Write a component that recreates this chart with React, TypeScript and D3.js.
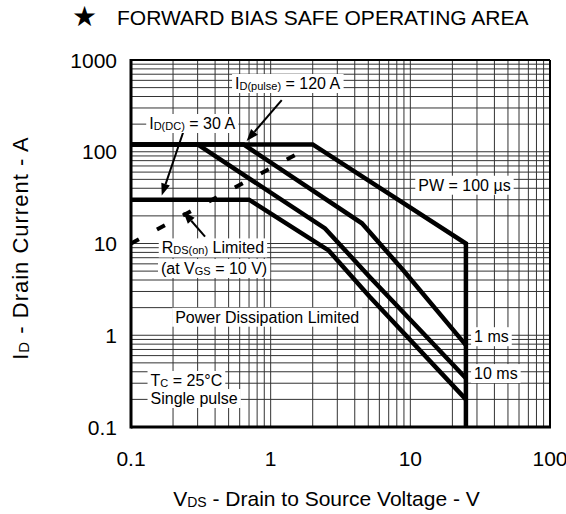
import * as d3 from "d3";
import { useEffect, useRef } from "react";

const W = 566;
const H = 514;
const PLOT = { left: 131, right: 550, top: 60, bottom: 427 };
const FONT = "'Liberation Sans', Arial, Helvetica, sans-serif";

const xTickLabels = ["0.1", "1", "10", "100"];
const yTickLabels = ["0.1", "1", "10", "100", "1000"];

// SOA boundaries as [V_DS (V), I_D (A)]
const pw100us: [number, number][] = [[0.1, 120], [2, 120], [25, 10], [25, 0.1]];
const pw1ms: [number, number][] = [[0.1, 120], [0.64, 120], [4.5, 16.6], [8.9, 5.1], [25, 0.78]];
const pw10ms: [number, number][] = [[0.1, 120], [0.3, 120], [2.45, 14.6], [5.1, 4.35], [25, 0.34]];
const dcLine: [number, number][] = [[0.1, 30], [0.7, 30], [2.6, 8.4], [5.1, 2.65], [25, 0.2]];
const rdsOnLimit: [number, number][] = [[0.1, 10], [1.65, 100]];

// annotation text, anchored at [V, I] (left end of baseline); second item flags subscript
type Part = [string, boolean?];
const labels: { at: [number, number]; parts: Part[] }[] = [
  { at: [0.556, 483], parts: [["I"], ["D(pulse)", true], [" = 120 A"]] },
  { at: [0.135, 177], parts: [["I"], ["D(DC)", true], [" = 30 A"]] },
  { at: [0.166, 7.8], parts: [["R"], ["DS(on)", true], [" Limited"]] },
  { at: [0.164, 4.65], parts: [["(at V"], ["GS", true], [" = 10 V)"]] },
  { at: [0.207, 1.37], parts: [["Power Dissipation Limited"]] },
  { at: [0.138, 0.28], parts: [["T"], ["C", true], [" = 25°C"]] },
  { at: [0.138, 0.178], parts: [["Single pulse"]] },
  { at: [11.4, 37.6], parts: [["PW = 100 µs"]] },
  { at: [28.6, 0.84], parts: [["1 ms"]] },
  { at: [28.6, 0.333], parts: [["10 ms"]] },
];

const arrows: { from: [number, number]; to: [number, number] }[] = [
  { from: [1.2, 366], to: [0.673, 131] },
  { from: [0.237, 165], to: [0.166, 33.4] },
  { from: [0.339, 11.9], to: [0.237, 22.2] },
];

export default function App() {
  const ref = useRef<SVGSVGElement>(null);

  useEffect(() => {
    const svg = d3.select(ref.current);
    svg.selectAll("*").remove();

    const x = d3.scaleLog().domain([0.1, 100]).range([PLOT.left, PLOT.right]);
    const y = d3.scaleLog().domain([0.1, 1000]).range([PLOT.bottom, PLOT.top]);

    svg.append("rect").attr("width", W).attr("height", H).attr("fill", "#fff");

    // title
    svg.append("text").attr("x", 72).attr("y", 26).attr("font-size", 28)
      .attr("font-family", "'DejaVu Sans', sans-serif").text("★");
    svg.append("text").attr("x", 117).attr("y", 25).attr("font-size", 21)
      .attr("font-family", FONT).text("FORWARD BIAS SAFE OPERATING AREA");

    // grid
    const grid = svg.append("g").attr("stroke", "#333").attr("stroke-width", 1);
    x.ticks().forEach((v) => {
      grid.append("line").attr("x1", x(v)).attr("x2", x(v))
        .attr("y1", PLOT.top).attr("y2", PLOT.bottom);
    });
    y.ticks().forEach((v) => {
      grid.append("line").attr("y1", y(v)).attr("y2", y(v))
        .attr("x1", PLOT.left).attr("x2", PLOT.right);
    });

    // annotation boxes + text
    const addText = (g: any, parts: Part[], size: number, subSize: number) => {
      const t = g.append("text").attr("font-size", size).attr("font-family", FONT);
      parts.forEach(([s, sub], i) => {
        const ts = t.append("tspan").text(s);
        if (sub) ts.attr("font-size", subSize).attr("dy", 1);
        else if (i > 0 && parts[i - 1][1]) ts.attr("dy", -1);
      });
      return t;
    };

    const labelLayer = svg.append("g");
    labels.forEach(({ at, parts }) => {
      const g = labelLayer.append("g").attr("transform", `translate(${x(at[0])},${y(at[1])})`);
      const t = addText(g, parts, 16, 11);
      const bb = (t.node() as SVGTextElement).getBBox();
      g.insert("rect", "text").attr("x", bb.x - 3).attr("y", bb.y - 1)
        .attr("width", bb.width + 6).attr("height", bb.height + 2).attr("fill", "#fff");
    });

    // curves
    const line = d3.line<[number, number]>().x((d) => x(d[0])).y((d) => y(d[1]));
    [pw100us, pw1ms, pw10ms, dcLine].forEach((data) => {
      svg.append("path").attr("d", line(data)).attr("fill", "none")
        .attr("stroke", "#000").attr("stroke-width", 4.5).attr("stroke-linejoin", "miter");
    });
    svg.append("path").attr("d", line(rdsOnLimit)).attr("fill", "none")
      .attr("stroke", "#000").attr("stroke-width", 4).attr("stroke-dasharray", "9 20.5");

    // arrows
    arrows.forEach(({ from, to }) => {
      const x0 = x(from[0]), y0 = y(from[1]), x1 = x(to[0]), y1 = y(to[1]);
      const a = Math.atan2(y1 - y0, x1 - x0);
      const len = 12, hw = 4.5;
      const bx = x1 - len * Math.cos(a), by = y1 - len * Math.sin(a);
      svg.append("line").attr("x1", x0).attr("y1", y0).attr("x2", bx).attr("y2", by)
        .attr("stroke", "#000").attr("stroke-width", 2);
      const pts = [
        [x1, y1],
        [bx + hw * Math.sin(a), by - hw * Math.cos(a)],
        [bx - hw * Math.sin(a), by + hw * Math.cos(a)],
      ];
      svg.append("polygon").attr("points", pts.map((p) => p.join(",")).join(" ")).attr("fill", "#000");
    });

    // labels on top
    labelLayer.raise();

    // frame
    const frame = svg.append("g").attr("stroke", "#000");
    frame.append("line").attr("x1", PLOT.left).attr("x2", PLOT.right).attr("y1", PLOT.top).attr("y2", PLOT.top).attr("stroke-width", 2);
    frame.append("line").attr("x1", PLOT.right).attr("x2", PLOT.right).attr("y1", PLOT.top).attr("y2", PLOT.bottom).attr("stroke-width", 2);
    frame.append("line").attr("x1", PLOT.left).attr("x2", PLOT.left).attr("y1", PLOT.top - 1).attr("y2", PLOT.bottom + 1.5).attr("stroke-width", 3);
    frame.append("line").attr("x1", PLOT.left).attr("x2", PLOT.right + 1).attr("y1", PLOT.bottom).attr("y2", PLOT.bottom).attr("stroke-width", 3);

    // tick labels
    const tl = svg.append("g").attr("font-family", FONT).attr("font-size", 21);
    xTickLabels.forEach((s) => {
      tl.append("text").attr("x", x(+s)).attr("y", 466).attr("text-anchor", "middle").text(s);
    });
    yTickLabels.forEach((s) => {
      tl.append("text").attr("x", 117).attr("y", y(+s)).attr("dy", "0.36em")
        .attr("text-anchor", "end").text(s);
    });

    // axis titles
    const xt = addText(svg.append("g"), [["V"], ["DS", true], [" - Drain to Source Voltage - V"]], 21, 14);
    xt.attr("x", (PLOT.left + PLOT.right) / 2 - 14).attr("y", 506).attr("text-anchor", "middle");
    const yt = addText(svg.append("g").attr("transform", `translate(28,248) rotate(-90)`),
      [["I"], ["D", true], [" - Drain Current - A"]], 22, 15);
    yt.attr("text-anchor", "middle").attr("letter-spacing", 1);
  }, []);

  return (
    <svg ref={ref} width={W} height={H}
      style={{ position: "absolute", left: 0, top: 0, display: "block" }} />
  );
}
